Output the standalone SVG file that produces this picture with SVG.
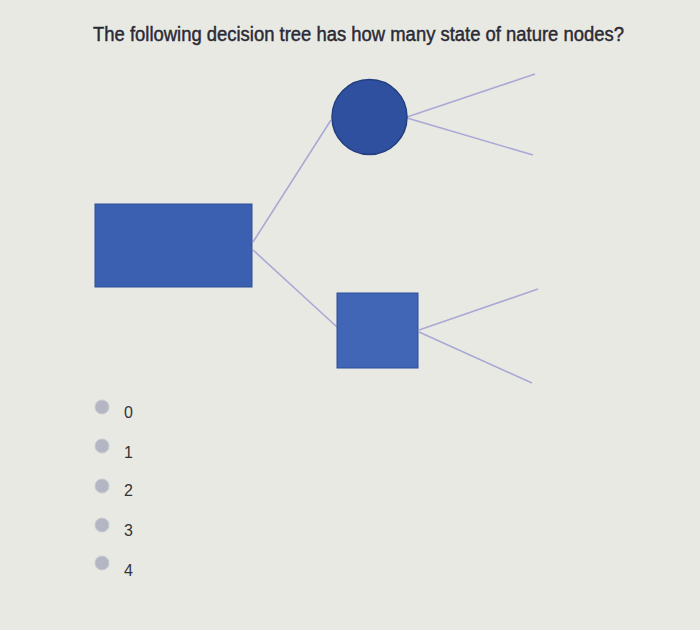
<svg xmlns="http://www.w3.org/2000/svg" width="700" height="630" viewBox="0 0 700 630">
<style>
.conn{stroke:#a9a9d6;stroke-width:1.6;fill:none}
.opt{font-family:"Liberation Sans",Arial,sans-serif;font-size:16px;fill:#333}
.radio{fill:#b4b6c4;stroke:#c8c9d2;stroke-width:1}
</style>
<rect width="700" height="630" fill="#e9e9e3"/>
<text x="93" y="41" font-family="Liberation Sans,Arial,sans-serif" font-size="20" fill="#2a2a35" stroke="#2a2a35" stroke-width="0.45" textLength="531" lengthAdjust="spacingAndGlyphs">The following decision tree has how many state of nature nodes?</text>
<g id="connectors">
<line class="conn" x1="253" y1="242" x2="331" y2="120"/>
<line class="conn" x1="253" y1="250" x2="337" y2="327"/>
<line class="conn" x1="407" y1="117" x2="535" y2="74"/>
<line class="conn" x1="407" y1="118" x2="533" y2="155"/>
<line class="conn" x1="419" y1="330" x2="538" y2="289"/>
<line class="conn" x1="419" y1="332" x2="532" y2="383"/>
</g>
<g id="decision1"><rect x="95" y="204" width="157" height="83" fill="#3b5fb1" stroke="#2f4e98" stroke-width="1"/></g>
<g id="chance1"><circle cx="369.5" cy="117" r="37.5" fill="#2f509f" stroke="#243f80" stroke-width="1.5"/></g>
<g id="decision2"><rect x="337" y="293" width="81" height="75" fill="#4166b6" stroke="#2f4e98" stroke-width="1"/></g>
<g id="options">
<circle class="radio" cx="102" cy="407" r="7"/><text class="opt" x="124" y="418">0</text>
<circle class="radio" cx="102" cy="446" r="7"/><text class="opt" x="124" y="458">1</text>
<circle class="radio" cx="102" cy="486" r="7"/><text class="opt" x="124" y="496">2</text>
<circle class="radio" cx="102" cy="525" r="7"/><text class="opt" x="124" y="536">3</text>
<circle class="radio" cx="102" cy="563" r="7"/><text class="opt" x="124" y="576">4</text>
</g>
</svg>
